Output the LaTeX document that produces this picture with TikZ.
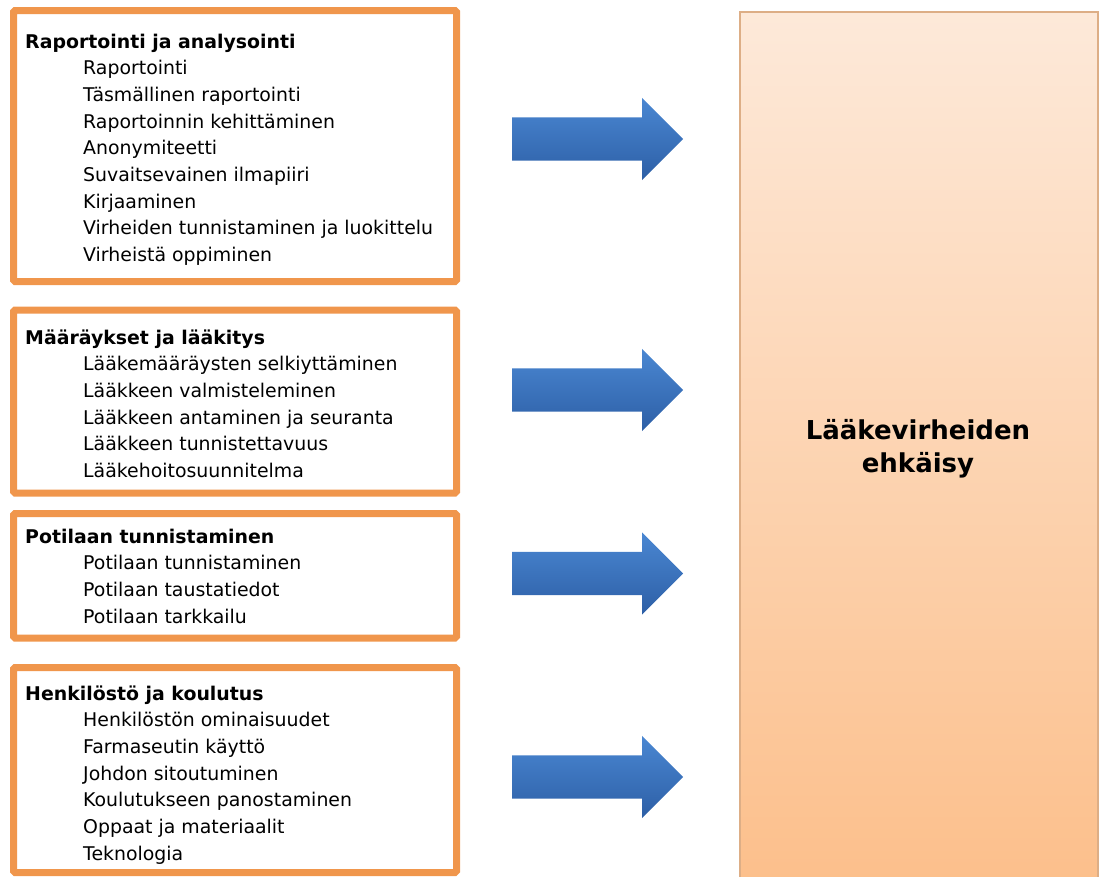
\documentclass[tikz,border=0pt]{standalone}
\usepackage{fontspec}
\setmainfont{DejaVu Sans}
\usetikzlibrary{shapes.arrows}
\definecolor{boxorange}{HTML}{F0964C}
\definecolor{peachtop}{HTML}{FDE9D9}
\definecolor{peachbot}{HTML}{FCBF8B}
\definecolor{peachline}{HTML}{DDAE86}
\definecolor{arrowtop}{HTML}{4A87D2}
\definecolor{arrowbot}{HTML}{2D5FA6}
\begin{document}
\begin{tikzpicture}[x=1pt,y=-1pt,
 groupbox/.style={draw=boxorange, line width=7pt, rounded corners=1.5pt, fill=white, inner sep=0pt},
 titletext/.style={anchor=base west, inner sep=0pt, font=\fontsize{18.9}{22}\selectfont\bfseries},
 itemtext/.style={anchor=base west, inner sep=0pt, font=\fontsize{18.9}{22}\selectfont},
 bigarrow/.style={single arrow, single arrow head extend=19.5pt, single arrow head indent=0pt,
   single arrow tip angle=90, minimum height=171pt, inner xsep=0pt, inner ysep=21.5pt,
   text height=0pt, text depth=0pt, top color=arrowtop, bottom color=arrowbot, draw=none, anchor=tail},
 goalbox/.style={draw=peachline, line width=1.5pt, top color=peachtop, bottom color=peachbot, inner sep=0pt},
 goaltext/.style={align=center, inner sep=0pt, font=\fontsize{26}{33}\selectfont\bfseries},
]
\useasboundingbox (0,0) rectangle (1101,876);
\clip (0,0) rectangle (1101,876);

% goal box
\node[goalbox, minimum width=358pt, minimum height=878pt] (goal) at (919,451) {};
\node[goaltext] (goallabel) at (918,448.6) {Lääkevirheiden\\ehkäisy};

% group boxes
\node[groupbox, minimum width=443pt, minimum height=271pt] (g1) at (235,146) {};
\node[groupbox, minimum width=443pt, minimum height=183pt] (g2) at (235,401.5) {};
\node[groupbox, minimum width=443pt, minimum height=124.5pt] (g3) at (235,575.75) {};
\node[groupbox, minimum width=443pt, minimum height=205pt] (g4) at (235,770) {};

% group 1
\node[titletext] (t1) at (25,48) {Raportointi ja analysointi};
\foreach \t [count=\i] in {Raportointi, Täsmällinen raportointi, Raportoinnin kehittäminen,
  Anonymiteetti, Suvaitsevainen ilmapiiri, Kirjaaminen,
  Virheiden tunnistaminen ja luokittelu, Virheistä oppiminen}
  \node[itemtext] (t1-\i) at (83,{48+26.67*\i}) {\t};

% group 2
\node[titletext] (t2) at (25,344) {Määräykset ja lääkitys};
\foreach \t [count=\i] in {Lääkemääräysten selkiyttäminen, Lääkkeen valmisteleminen,
  Lääkkeen antaminen ja seuranta, Lääkkeen tunnistettavuus, Lääkehoitosuunnitelma}
  \node[itemtext] (t2-\i) at (83,{344+26.67*\i}) {\t};

% group 3
\node[titletext] (t3) at (25,543.3) {Potilaan tunnistaminen};
\foreach \t [count=\i] in {Potilaan tunnistaminen, Potilaan taustatiedot, Potilaan tarkkailu}
  \node[itemtext] (t3-\i) at (83,{543.3+26.67*\i}) {\t};

% group 4
\node[titletext] (t4) at (25,700) {Henkilöstö ja koulutus};
\foreach \t [count=\i] in {Henkilöstön ominaisuudet, Farmaseutin käyttö, Johdon sitoutuminen,
  Koulutukseen panostaminen, Oppaat ja materiaalit, Teknologia}
  \node[itemtext] (t4-\i) at (83,{700+26.67*\i}) {\t};

% arrows
\node[bigarrow] (a1) at (512,139) {};
\node[bigarrow] (a2) at (512,390) {};
\node[bigarrow] (a3) at (512,573.5) {};
\node[bigarrow] (a4) at (512,777) {};
\end{tikzpicture}
\end{document}
